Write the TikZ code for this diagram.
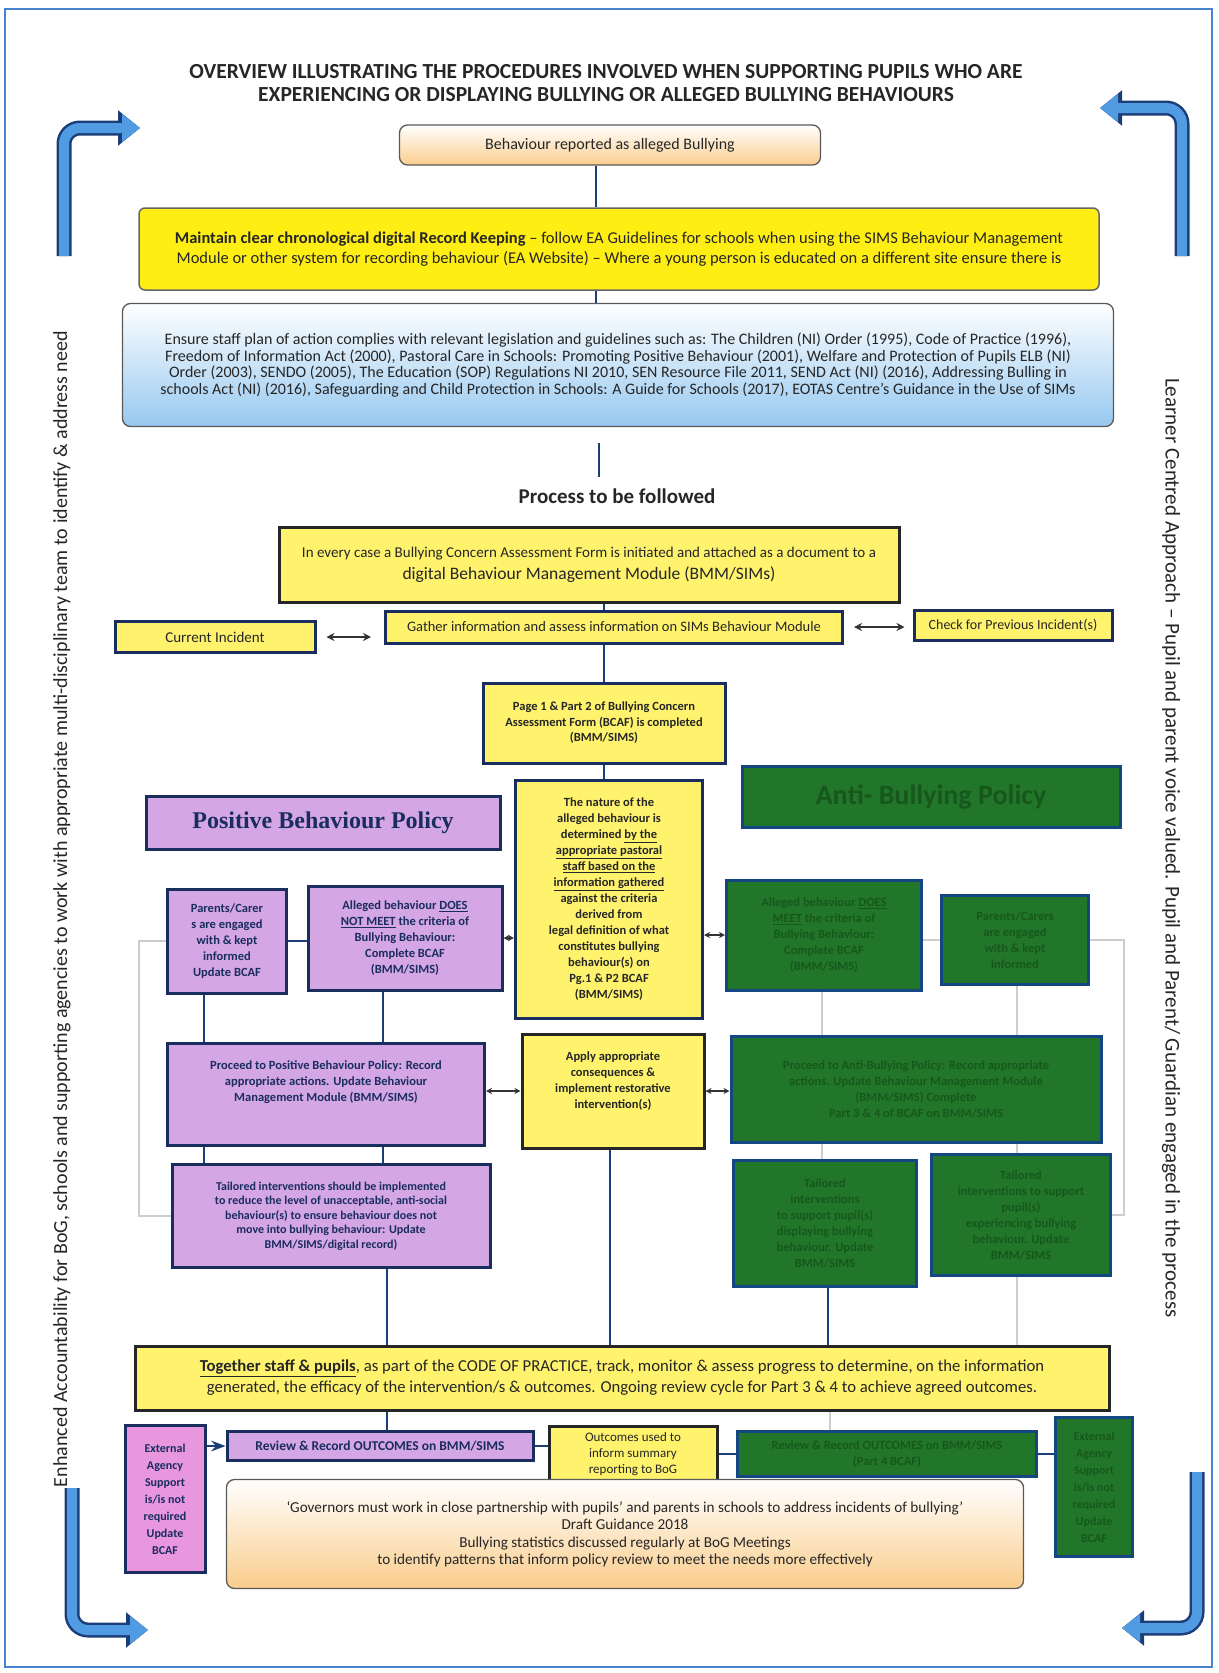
\documentclass[tikz,border=0pt]{standalone}
\usepackage{fontspec}
\setmainfont{Carlito}
\newfontfamily\headfont{Liberation Serif}
\usetikzlibrary{arrows.meta, calc, positioning}
\definecolor{linkblue}{RGB}{28,62,120}
\definecolor{boxnavy}{RGB}{25,45,95}
\definecolor{brightyellow}{RGB}{255,238,20}
\definecolor{paleyellow}{RGB}{255,243,110}
\definecolor{lavender}{RGB}{212,166,228}
\definecolor{policygreen}{RGB}{34,118,42}
\definecolor{greentext}{RGB}{22,88,28}
\definecolor{greenedge}{RGB}{20,70,130}
\definecolor{pinkbox}{RGB}{232,150,222}
\definecolor{skyblue}{RGB}{150,200,240}
\definecolor{peach}{RGB}{250,205,140}
\definecolor{faintgrey}{RGB}{205,205,205}
\definecolor{cornerblue}{RGB}{80,155,225}
\definecolor{framecol}{RGB}{70,130,205}

\begin{document}
\begin{tikzpicture}[x=1pt, y=-1pt, >=Stealth,
    box/.style={rectangle, align=center, inner sep=2pt, text=black!85},
    yelbox/.style={box, fill=paleyellow, draw=black!85, line width=3pt},
    navyyel/.style={box, fill=paleyellow, draw=boxnavy, line width=3pt},
    purbox/.style={box, fill=lavender, draw=boxnavy, line width=3pt, text=boxnavy},
    grnbox/.style={box, fill=policygreen, draw=greenedge, line width=3pt, text=greentext},
    softbox/.style={box, rounded corners=8pt, draw=black!65, line width=1.3pt},
    link/.style={draw=linkblue, line width=2.5pt},
    faint/.style={draw=faintgrey, line width=1.5pt},
    dbl/.style={draw=black!80, line width=2pt, {Stealth[length=8pt,width=8pt]}-{Stealth[length=8pt,width=8pt]}},
    sarr/.style={draw=black!80, line width=2pt, {Stealth[length=6pt,width=6pt]}-{Stealth[length=6pt,width=6pt]}},
    bendedge/.style={draw=linkblue, line width=15pt, rounded corners=16pt, -{Triangle[length=22pt,width=34pt]}},
    bendfill/.style={draw=cornerblue, line width=10pt, rounded corners=16pt, -{Triangle[length=18pt,width=27pt]}},
    inner/.style={font=\fontsize{12.5}{16}\selectfont\bfseries}
]
    \useasboundingbox (0,0) rectangle (1218,1673);
    \draw[framecol, line width=1.5pt] (5,9) rectangle (1212,1667);

    % Corner arrows
    \draw[bendedge] (64,256) -- (64,128) -- (140,128);
    \draw[bendfill] (64,256) -- (64,128) -- (140,128);
    \draw[bendedge] (1182,256) -- (1182,108) -- (1100,108);
    \draw[bendfill] (1182,256) -- (1182,108) -- (1100,108);
    \draw[bendedge] (72,1488) -- (72,1630) -- (148,1630);
    \draw[bendfill] (72,1488) -- (72,1630) -- (148,1630);
    \draw[bendedge] (1197,1472) -- (1197,1628) -- (1122,1628);
    \draw[bendfill] (1197,1472) -- (1197,1628) -- (1122,1628);

    % Side notes
    \node[rotate=90, font=\fontsize{20}{22}\selectfont, text=black!85] (leftnote) at (62,909)
        {Enhanced Accountability for BoG, schools and supporting agencies to work with appropriate multi-disciplinary team to identify \& address need};
    \node[rotate=-90, font=\fontsize{21}{23}\selectfont, text=black!85] (rightnote) at (1171,848)
        {Learner Centred Approach -- Pupil and parent voice valued. Pupil and Parent/ Guardian engaged in the process};

    % Heading
    \node[font=\fontsize{21.5}{23}\selectfont\bfseries, align=center, text=black!85] (title) at (606,83)
        {OVERVIEW ILLUSTRATING THE PROCEDURES INVOLVED WHEN SUPPORTING PUPILS WHO ARE\\EXPERIENCING OR DISPLAYING BULLYING OR ALLEGED BULLYING BEHAVIOURS};

    % Top chain
    \node[softbox, top color=white, bottom color=peach, minimum width=421pt, minimum height=40pt, font=\fontsize{16}{18}\selectfont] (reported) at (610,145)
        {Behaviour reported as alleged Bullying};
    \node[box, fill=brightyellow, draw=black!60, rounded corners=6pt, line width=1.5pt, minimum width=960pt, minimum height=82pt, font=\fontsize{16.5}{19.5}\selectfont] (record) at (619,249)
        {\textbf{Maintain clear chronological digital Record Keeping} -- follow EA Guidelines for schools when using the SIMS Behaviour Management\\Module or other system for recording behaviour (EA Website) -- Where a young person is educated on a different site ensure there is};
    \node[softbox, top color=white, bottom color=skyblue, minimum width=991pt, minimum height=123pt, font=\fontsize{16}{16.5}\selectfont] (legis) at (618,365)
        {Ensure staff plan of action complies with relevant legislation and guidelines such as: The Children (NI) Order (1995), Code of Practice (1996),\\
         Freedom of Information Act (2000), Pastoral Care in Schools: Promoting Positive Behaviour (2001), Welfare and Protection of Pupils ELB (NI)\\
         Order (2003), SENDO (2005), The Education (SOP) Regulations NI 2010, SEN Resource File 2011, SEND Act (NI) (2016), Addressing Bulling in\\
         schools Act (NI) (2016), Safeguarding and Child Protection in Schools: A Guide for Schools (2017), EOTAS Centre's Guidance in the Use of SIMs};
    \node[font=\fontsize{21}{23}\selectfont\bfseries, text=black!85] (process) at (617,496) {Process to be followed};

    \coordinate (spineA) at (596,0);
    \coordinate (stub) at (599,0);
    \coordinate (spineB) at (604,0);
    \draw[link] (reported.south -| spineA) -- (record.north -| spineA);
    \draw[link] (record.south -| spineA) -- (legis.north -| spineA);
    \draw[link, shorten <=16pt, shorten >=8pt] (legis.south -| stub) -- (process.north -| stub);

    % Bullying concern form
    \node[yelbox, minimum width=620pt, minimum height=75pt, font=\fontsize{15}{22}\selectfont] (every) at (589,565)
        {In every case a Bullying Concern Assessment Form is initiated and attached as a document to a\\{\fontsize{17.5}{20}\selectfont digital Behaviour Management Module (BMM/SIMs)}};
    \node[navyyel, minimum width=457pt, minimum height=32pt, font=\fontsize{14.5}{16}\selectfont] (gather) at (614,627)
        {Gather information and assess information on SIMs Behaviour Module};
    \node[navyyel, minimum width=200pt, minimum height=31pt, font=\fontsize{15}{16}\selectfont] (current) at (215,637) {Current Incident};
    \node[navyyel, minimum width=198pt, minimum height=30pt, font=\fontsize{14}{16}\selectfont] (check) at (1013,625) {Check for Previous Incident(s)};
    \node[navyyel, minimum width=242pt, minimum height=80pt, font=\fontsize{12.5}{15.5}\selectfont\bfseries] (page) at (604,723)
        {Page 1 \& Part 2 of Bullying Concern\\Assessment Form (BCAF) is completed\\(BMM/SIMS)};

    \draw[link] (every.south -| spineB) -- (gather.north -| spineB);
    \draw[link] (gather.south -| spineB) -- (page.north -| spineB);
    \draw[dbl, shorten <=10pt, shorten >=13pt] (current.east) -- (current.east -| gather.west);
    \draw[dbl, shorten <=10pt, shorten >=8pt] (gather.east) -- (gather.east -| check.west);

    % Policy headings
    \node[purbox, minimum width=354pt, minimum height=53pt, font=\headfont\fontsize{24}{26}\selectfont\bfseries] (pbp) at (323,823) {Positive Behaviour Policy};
    \node[grnbox, minimum width=378pt, minimum height=61pt, font=\fontsize{28}{30}\selectfont\bfseries] (abp) at (931,797) {Anti- Bullying Policy};

    % Decision
    \node[navyyel, inner, minimum width=187pt, minimum height=238pt] (nature) at (609,899)
        {The nature of the\\alleged behaviour is\\determined \underline{by the}\\\underline{appropriate pastoral}\\\underline{staff based on the}\\\underline{information gathered}\\against the criteria\\derived from\\legal definition of what\\constitutes bullying\\behaviour(s) on\\Pg.1 \& P2 BCAF\\(BMM/SIMS)};
    \draw[link] (page.south -| spineB) -- (nature.north -| spineB);

    % Positive behaviour side
    \node[purbox, inner, minimum width=119pt, minimum height=104pt] (parents) at (227,941)
        {Parents/Carer\\s are engaged\\with \& kept\\informed\\Update BCAF};
    \node[purbox, inner, minimum width=194pt, minimum height=104pt] (dnm) at (405,938)
        {Alleged behaviour \underline{DOES}\\\underline{NOT MEET} the criteria of\\Bullying Behaviour:\\Complete BCAF\\(BMM/SIMS)};
    \node[purbox, inner, minimum width=317pt, minimum height=102pt] (proceed) at (326,1094)
        {Proceed to Positive Behaviour Policy: Record\\appropriate actions. Update Behaviour\\Management Module (BMM/SIMS)\\[10pt]\mbox{}};
    \node[purbox, font=\fontsize{12}{14.5}\selectfont\bfseries, minimum width=318pt, minimum height=103pt] (tailored) at (331,1216)
        {Tailored interventions should be implemented\\to reduce the level of unacceptable, anti-social\\behaviour(s) to ensure behaviour does not\\move into bullying behaviour: Update\\BMM/SIMS/digital record)};
    \node[yelbox, inner, minimum width=182pt, minimum height=114pt] (apply) at (613,1091)
        {Apply appropriate\\consequences \&\\implement restorative\\intervention(s)\\[6pt]\mbox{}};

    \coordinate (colA) at (204,0);
    \coordinate (colB) at (383,0);
    \draw[link] (parents.east) -- (parents.east -| dnm.west);
    \draw[link] (parents.south -| colA) -- (proceed.north -| colA);
    \draw[link] (dnm.south -| colB) -- (proceed.north -| colB);
    \draw[link] (proceed.south -| colA) -- (tailored.north -| colA);
    \draw[link] (proceed.south -| colB) -- (tailored.north -| colB);
    \draw[sarr] (dnm.east) -- (dnm.east -| nature.west);
    \draw[sarr] (apply.west) -- (apply.west -| proceed.east);

    % Anti-bullying side
    \node[grnbox, inner, minimum width=195pt, minimum height=110pt] (g1) at (824,935)
        {Alleged behaviour \underline{DOES}\\\underline{MEET} the criteria of\\Bullying Behaviour:\\Complete BCAF\\(BMM/SIMS)};
    \node[grnbox, inner, minimum width=147pt, minimum height=89pt] (g2) at (1015,940)
        {Parents/Carers\\are engaged\\with \& kept\\informed};
    \node[grnbox, inner, minimum width=370pt, minimum height=106pt] (g3) at (916,1089)
        {Proceed to Anti-Bullying Policy: Record appropriate\\actions. Update Behaviour Management Module\\(BMM/SIMS) Complete\\Part 3 \& 4 of BCAF on BMM/SIMS};
    \node[grnbox, inner, minimum width=183pt, minimum height=126pt] (g4) at (825,1223)
        {Tailored\\interventions\\to support pupil(s)\\displaying bullying\\behaviour. Update\\BMM/SIMS};
    \node[grnbox, inner, minimum width=179pt, minimum height=121pt] (g5) at (1021,1215)
        {Tailored\\interventions to support\\pupil(s)\\experiencing bullying\\behaviour. Update\\BMM/SIMS};

    \draw[sarr] (nature.east |- g1.west) -- (g1.west);
    \draw[sarr] (apply.east) -- (apply.east -| g3.west);

    % Faint review loops
    \coordinate (colF) at (822,0);
    \coordinate (colG) at (1017,0);
    \coordinate (loopL) at (139,0);
    \coordinate (loopR) at (1124,0);
    \draw[faint] (g1.east |- g2.west) -- (g2.west);
    \draw[faint] (g1.south -| colF) -- (g3.north -| colF);
    \draw[faint] (g2.south -| colG) -- (g3.north -| colG);
    \draw[faint] (g3.south -| colF) -- (g4.north -| colF);
    \draw[faint] (g3.south -| colG) -- (g5.north -| colG);
    \draw[faint] (parents.west) -| (loopL |- tailored.west) -- (tailored.west);
    \draw[faint] (g2.east) -| (loopR |- g5.east) -- (g5.east);

    % Monitoring
    \node[yelbox, font=\fontsize{16.7}{21}\selectfont, minimum width=974pt, minimum height=64pt] (together) at (622,1378)
        {\textbf{\underline{Together staff \& pupils}}, as part of the CODE OF PRACTICE, track, monitor \& assess progress to determine, on the information\\generated, the efficacy of the intervention/s \& outcomes. Ongoing review cycle for Part 3 \& 4 to achieve agreed outcomes.};

    \coordinate (colC) at (610,0);
    \coordinate (colD) at (387,0);
    \coordinate (colE) at (828,0);
    \draw[link] (tailored.south -| colD) -- (together.north -| colD);
    \draw[link] (apply.south -| colC) -- (together.north -| colC);
    \draw[link] (g4.south -| colE) -- (together.north -| colE);
    \draw[faint] (g5.south -| colG) -- (together.north -| colG);

    % Outcomes row
    \node[purbox, font=\fontsize{13.5}{16}\selectfont\bfseries, minimum width=306pt, minimum height=29pt] (review) at (380,1446)
        {Review \& Record OUTCOMES on BMM/SIMS};
    \node[box, fill=pinkbox, draw=boxnavy, line width=3pt, text=boxnavy, font=\fontsize{12}{17}\selectfont\bfseries, minimum width=80pt, minimum height=147pt] (external) at (165,1499)
        {External\\Agency\\Support\\is/is not\\required\\Update\\BCAF};
    \node[yelbox, font=\fontsize{13}{16}\selectfont, minimum width=168pt, minimum height=55pt] (outcomes) at (633,1454)
        {Outcomes used to\\inform summary\\reporting to BoG};
    \node[grnbox, inner, minimum width=299pt, minimum height=45pt] (gwide) at (887,1454)
        {Review \& Record OUTCOMES on BMM/SIMS\\(Part 4 BCAF)};
    \node[grnbox, font=\fontsize{12}{17}\selectfont\bfseries, minimum width=77pt, minimum height=139pt] (gtall) at (1094,1487)
        {External\\Agency\\Support\\is/is not\\required\\Update\\BCAF};

    \coordinate (colH) at (830,0);
    \draw[link] (together.south -| colD) -- (review.north -| colD);
    \draw[faint] (together.south -| colH) -- (gwide.north -| colH);
    \draw[link, ->] (external.east |- review.west) -- (review.west);
    \draw[link] (review.east) -- (review.east -| outcomes.west);
    \draw[link] (outcomes.east) -- (outcomes.east -| gwide.west);
    \draw[link] (gwide.east) -- (gwide.east -| gtall.west);

    % Governors
    \node[softbox, top color=white, bottom color=peach, font=\fontsize{15.2}{17.5}\selectfont, minimum width=797pt, minimum height=109pt] (governors) at (625,1534)
        {`Governors must work in close partnership with pupils' and parents in schools to address incidents of bullying'\\Draft Guidance 2018\\Bullying statistics discussed regularly at BoG Meetings\\to identify patterns that inform policy review to meet the needs more effectively};
\end{tikzpicture}
\end{document}
